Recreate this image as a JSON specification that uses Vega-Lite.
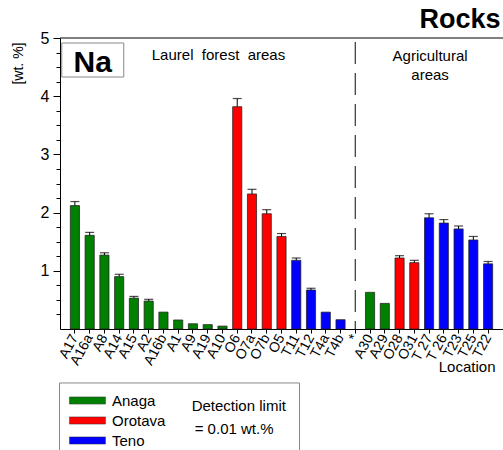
{
  "$schema": "https://vega.github.io/schema/vega-lite/v6.json",
  "width": 443,
  "height": 291,
  "autosize": {"type": "none"},
  "padding": {"left": 60, "top": 38, "right": 0, "bottom": 121},
  "background": "white",
  "config": {
    "font": "Liberation Sans",
    "view": {"stroke": null},
    "axis": {"domainColor": "black", "tickColor": "black", "labelColor": "black", "titleColor": "black", "grid": false, "labelFont": "Liberation Sans", "titleFont": "Liberation Sans"}
  },
  "title": {"text": "Rocks", "anchor": "end", "fontSize": 27, "fontWeight": "bold", "font": "Liberation Sans", "offset": 4, "dy": 8, "dx": -3, "color": "black"},
  "datasets": {
    "bars": [
      {"loc": "A17", "grp": "Anaga", "value": 2.12, "err": 2.19},
      {"loc": "A16a", "grp": "Anaga", "value": 1.61, "err": 1.66},
      {"loc": "A8", "grp": "Anaga", "value": 1.27, "err": 1.31},
      {"loc": "A14", "grp": "Anaga", "value": 0.90, "err": 0.94},
      {"loc": "A15", "grp": "Anaga", "value": 0.53, "err": 0.56},
      {"loc": "A2", "grp": "Anaga", "value": 0.48, "err": 0.51},
      {"loc": "A16b", "grp": "Anaga", "value": 0.29, "err": null},
      {"loc": "A1", "grp": "Anaga", "value": 0.155, "err": null},
      {"loc": "A9", "grp": "Anaga", "value": 0.09, "err": null},
      {"loc": "A19", "grp": "Anaga", "value": 0.075, "err": null},
      {"loc": "A10", "grp": "Anaga", "value": 0.05, "err": null},
      {"loc": "O6", "grp": "Orotava", "value": 3.82, "err": 3.96},
      {"loc": "O7a", "grp": "Orotava", "value": 2.32, "err": 2.40},
      {"loc": "O7b", "grp": "Orotava", "value": 1.98, "err": 2.05},
      {"loc": "O5", "grp": "Orotava", "value": 1.59, "err": 1.64},
      {"loc": "T11", "grp": "Teno", "value": 1.18, "err": 1.22},
      {"loc": "T12", "grp": "Teno", "value": 0.67, "err": 0.70},
      {"loc": "T4a", "grp": "Teno", "value": 0.29, "err": null},
      {"loc": "T4b", "grp": "Teno", "value": 0.16, "err": null},
      {"loc": "A30", "grp": "Anaga", "value": 0.63, "err": null},
      {"loc": "A29", "grp": "Anaga", "value": 0.44, "err": null},
      {"loc": "O28", "grp": "Orotava", "value": 1.22, "err": 1.26},
      {"loc": "O31", "grp": "Orotava", "value": 1.14, "err": 1.18},
      {"loc": "T 27", "grp": "Teno", "value": 1.91, "err": 1.98},
      {"loc": "T 26", "grp": "Teno", "value": 1.82, "err": 1.88},
      {"loc": "T23", "grp": "Teno", "value": 1.72, "err": 1.77},
      {"loc": "T25", "grp": "Teno", "value": 1.53, "err": 1.59},
      {"loc": "T22", "grp": "Teno", "value": 1.12, "err": 1.16}
    ],
    "one": [{"k": 1}],
    "minor": [{"t": 0.25}]
  },
  "data": {"name": "bars"},
  "resolve": {"axis": {"y": "independent"}},
  "layer": [
    {
      "data": {"name": "one"},
      "mark": {"type": "point", "shape": "M-0.989,-0.3H1.011V0.3H-0.989Z", "size": 57600, "filled": true, "fill": "white", "stroke": "#888", "strokeWidth": 1, "opacity": 1, "clip": false},
      "encoding": {"x": {"datum": "A1"}, "y": {"datum": -1.546, "axis": null}}
    },
    {
      "mark": {"type": "bar", "stroke": "#222", "strokeWidth": 1, "strokeOpacity": 0.75},
      "encoding": {
        "x": {
          "field": "loc", "type": "nominal", "sort": null,
          "scale": {"domain": ["A17","A16a","A8","A14","A15","A2","A16b","A1","A9","A19","A10","O6","O7a","O7b","O5","T11","T12","T4a","T4b","*","A30","A29","O28","O31","T 27","T 26","T23","T25","T22"], "paddingInner": 0.38, "paddingOuter": 0.7},
          "axis": {"title": "Location", "labelAngle": -62, "labelFontSize": 14, "labelPadding": 2, "tickSize": 4, "titleFontSize": 15, "titleFontWeight": "normal", "titleX": 435, "titleY": 42, "titleAlign": "right", "titleBaseline": "alphabetic"}
        },
        "y": {
          "field": "value", "type": "quantitative",
          "scale": {"domain": [0, 5], "nice": false},
          "axis": {
            "orient": "left",
            "title": "[wt. %]", "titleFontSize": 14, "titleFontWeight": "normal", "titleX": -42, "titleY": 4, "titleAlign": "right", "titleBaseline": "middle", "titleAngle": -90,
            "values": [1, 2, 3, 4, 5],
            "labelFontSize": 16, "labelPadding": 4, "tickSize": 7
          }
        },
        "color": {
          "field": "grp", "type": "nominal",
          "scale": {"domain": ["Anaga", "Orotava", "Teno"], "range": ["#008000", "#ff0000", "#0000ff"]},
          "legend": {
            "orient": "none", "legendX": 9, "legendY": 355, "direction": "vertical", "title": null,
            "labelFontSize": 15, "labelColor": "black", "labelOffset": 28,
            "symbolType": "M-1.56,-0.8H6.44V0.8H-1.56Z", "symbolSize": 81, "symbolStrokeWidth": 0.5, "symbolStrokeColor": "#333",
            "padding": 0, "rowPadding": 4
          }
        }
      }
    },
    {
      "data": {"name": "minor"},
      "mark": {"type": "rule", "opacity": 0},
      "encoding": {
        "y": {
          "field": "t", "type": "quantitative",
          "scale": {"domain": [0, 5], "nice": false},
          "axis": {"orient": "left", "title": null, "labels": false, "domain": false, "tickSize": 4, "values": [0.25,0.5,0.75,1.25,1.5,1.75,2.25,2.5,2.75,3.25,3.5,3.75,4.25,4.5,4.75]}
        }
      }
    },
    {
      "transform": [{"filter": "datum.err != null"}],
      "mark": {"type": "rule", "color": "black", "strokeWidth": 1},
      "encoding": {"x": {"field": "loc", "type": "nominal"}, "y": {"field": "value", "type": "quantitative", "axis": null}, "y2": {"field": "err"}}
    },
    {
      "transform": [{"filter": "datum.err != null"}],
      "mark": {"type": "tick", "color": "black", "size": 9, "thickness": 1.2, "orient": "horizontal"},
      "encoding": {"x": {"field": "loc", "type": "nominal"}, "y": {"field": "err", "type": "quantitative", "axis": null}}
    },
    {
      "data": {"name": "one"},
      "mark": {"type": "rule", "color": "black", "strokeWidth": 1},
      "encoding": {"y": {"datum": 5, "axis": null}}
    },
    {
      "data": {"name": "one"},
      "mark": {"type": "rule", "color": "#333", "strokeWidth": 1.2, "strokeDash": [22, 9]},
      "encoding": {"x": {"datum": "*"}, "y": {"datum": 4.93, "axis": null}, "y2": {"datum": 0}}
    },
    {
      "data": {"name": "one"},
      "mark": {"type": "point", "shape": "M-0.9,-0.548H1.1V0.548H-0.9Z", "size": 3844, "filled": false, "stroke": "#888", "strokeWidth": 1, "opacity": 1},
      "encoding": {"x": {"datum": "A16a"}, "y": {"datum": 4.622, "axis": null}}
    },
    {
      "data": {"name": "one"},
      "mark": {"type": "text", "text": "Na", "fontSize": 30, "fontWeight": "bold", "font": "Liberation Sans", "color": "black", "baseline": "alphabetic", "align": "center", "dx": 3},
      "encoding": {"x": {"datum": "A16a"}, "y": {"datum": 4.416, "axis": null}}
    },
    {
      "data": {"name": "one"},
      "mark": {"type": "text", "text": "Laurel\u00a0 forest\u00a0 areas", "fontSize": 15, "font": "Liberation Sans", "color": "black", "baseline": "alphabetic", "align": "center", "dx": -4},
      "encoding": {"x": {"datum": "A10"}, "y": {"datum": 4.622, "axis": null}}
    },
    {
      "data": {"name": "one"},
      "mark": {"type": "text", "text": ["Agricultural", "areas"], "lineHeight": 19, "fontSize": 15, "font": "Liberation Sans", "color": "black", "baseline": "alphabetic", "align": "center", "dx": 1},
      "encoding": {"x": {"datum": "T 27"}, "y": {"datum": 4.605, "axis": null}}
    },
    {
      "data": {"name": "one"},
      "mark": {"type": "text", "text": "Detection limit", "fontSize": 15, "font": "Liberation Sans", "color": "black", "baseline": "middle", "align": "left", "dx": 43, "clip": false},
      "encoding": {"x": {"datum": "A2"}, "y": {"datum": -1.323, "axis": null}}
    },
    {
      "data": {"name": "one"},
      "mark": {"type": "text", "text": "= 0.01 wt.%", "fontSize": 15, "font": "Liberation Sans", "color": "black", "baseline": "middle", "align": "left", "dx": 46, "clip": false},
      "encoding": {"x": {"datum": "A2"}, "y": {"datum": -1.718, "axis": null}}
    }
  ]
}
